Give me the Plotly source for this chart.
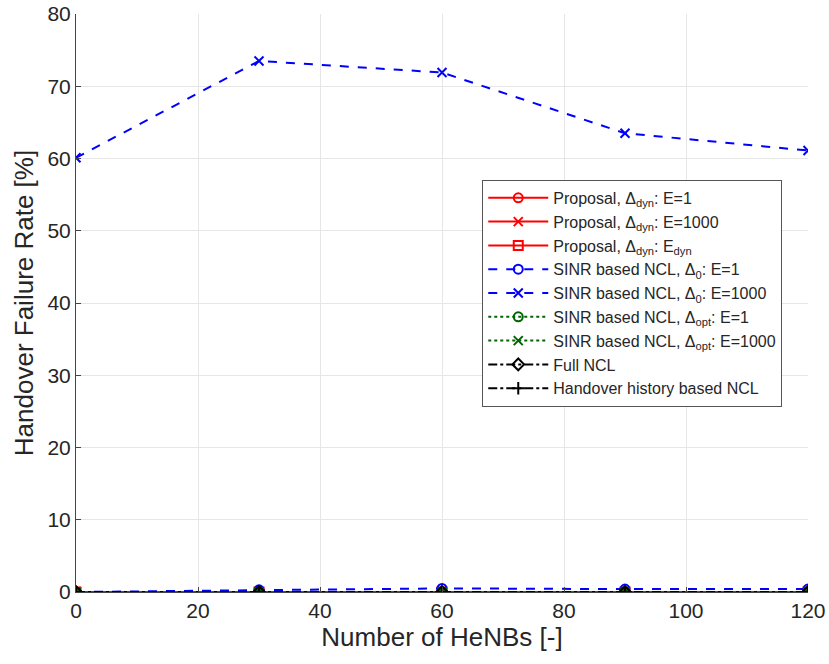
import plotly.graph_objects as go

# Number of HeNBs
henbs = [0, 30, 60, 90, 120]

# Handover failure rate [%] for each scheme
prop_e1 = [0.0, 0.0, 0.0, 0.0, 0.0]
prop_e1000 = [0.0, 0.0, 0.0, 0.0, 0.0]
prop_edyn = [0.0, 0.0, 0.0, 0.0, 0.0]
sinr_d0_e1 = [0.0, 0.3, 0.5, 0.4, 0.4]
sinr_d0_e1000 = [60.1, 73.5, 71.9, 63.5, 61.1]
sinr_opt_e1 = [0.0, 0.0, 0.0, 0.0, 0.0]
sinr_opt_e1000 = [0.0, 0.0, 0.0, 0.0, 0.0]
full_ncl = [0.0, 0.0, 0.0, 0.0, 0.0]
history_ncl = [0.0, 0.0, 0.0, 0.0, 0.0]

series = [
    ("Proposal, Δ<sub>dyn</sub>: E=1", prop_e1, "red", "solid", "circle-open"),
    ("Proposal, Δ<sub>dyn</sub>: E=1000", prop_e1000, "red", "solid", "x-thin-open"),
    ("Proposal, Δ<sub>dyn</sub>: E<sub>dyn</sub>", prop_edyn, "red", "solid", "square-open"),
    ("SINR based NCL, Δ<sub>0</sub>: E=1", sinr_d0_e1, "blue", "dash", "circle-open"),
    ("SINR based NCL, Δ<sub>0</sub>: E=1000", sinr_d0_e1000, "blue", "dash", "x-thin-open"),
    ("SINR based NCL, Δ<sub>opt</sub>: E=1", sinr_opt_e1, "#006400", "dot", "circle-open"),
    ("SINR based NCL, Δ<sub>opt</sub>: E=1000", sinr_opt_e1000, "#006400", "dot", "x-thin-open"),
    ("Full NCL", full_ncl, "black", "dashdot", "diamond-open"),
    ("Handover history based NCL", history_ncl, "black", "dashdot", "cross-thin-open"),
]

fig = go.Figure()
for name, vals, color, dash, sym in series:
    fig.add_trace(go.Scatter(
        x=henbs, y=vals, name=name, mode="lines+markers",
        line=dict(color=color, dash=dash, width=2),
        marker=dict(symbol=sym, size=9, color=color,
                    line=dict(color=color, width=2)),
    ))

text_color = "#262626"
tick_font = dict(family="Liberation Sans, Arial, sans-serif", size=21, color=text_color)
title_font = dict(family="Liberation Sans, Arial, sans-serif", size=26, color=text_color)

fig.update_layout(
    width=829, height=664,
    margin=dict(l=76, r=21, t=14, b=72, autoexpand=False),
    plot_bgcolor="white", paper_bgcolor="white",
    font=dict(family="Liberation Sans, Arial, sans-serif", color=text_color),
    showlegend=True,
    legend=dict(
        x=0.555, y=0.713, xanchor="left", yanchor="top",
        bgcolor="white", bordercolor="#555555", borderwidth=1,
        font=dict(size=16, color=text_color),
        tracegroupgap=0, itemwidth=60,
    ),
    xaxis=dict(
        title=dict(text="Number of HeNBs [-]", font=title_font, standoff=4),
        range=[0, 120], tickvals=[0, 20, 40, 60, 80, 100, 120],
        tickfont=tick_font, showgrid=True, gridcolor="#e6e6e6", gridwidth=1,
        showline=True, linecolor="#444444", linewidth=1,
        ticks="inside", ticklen=5, tickcolor="#444444",
        zeroline=False, mirror=False, automargin=False,
    ),
    yaxis=dict(
        title=dict(text="Handover Failure Rate [%]", font=title_font, standoff=6),
        range=[0, 80], tickvals=[0, 10, 20, 30, 40, 50, 60, 70, 80],
        tickfont=tick_font, showgrid=True, gridcolor="#e6e6e6", gridwidth=1,
        showline=True, linecolor="#444444", linewidth=1,
        ticks="inside", ticklen=5, tickcolor="#444444",
        zeroline=False, mirror=False, automargin=False,
    ),
)

fig.write_html("out.html")
